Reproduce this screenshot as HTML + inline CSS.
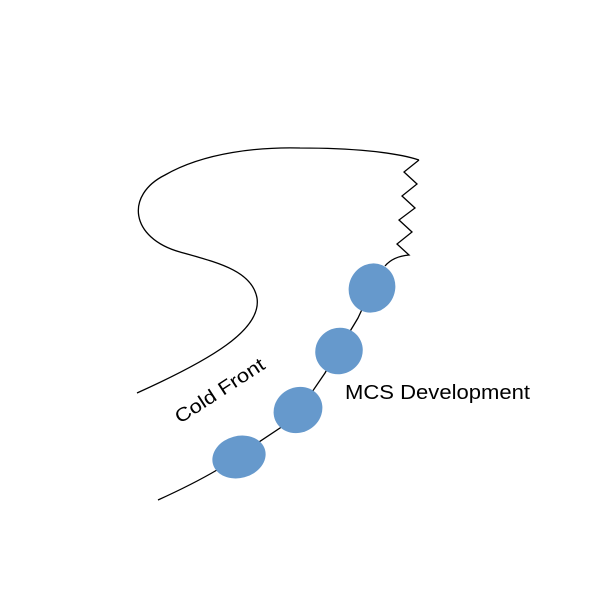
<!DOCTYPE html>
<html><head><style>body{margin:0;background:#fff}</style></head><body>
<svg width="600" height="600" viewBox="0 0 600 600" xmlns="http://www.w3.org/2000/svg">
<g fill="none" stroke="#000" stroke-width="1.3">
<path d="M137,393 C210,360 262,330 257,298 C252,270 215,262 180,252 C130,238 125,195 165,175 C205,152 260,147 300,148 C350,148 395,152 419,160"/>
<path d="M419,160 L404,172 L417,184 L402,196 L415,208 L399,220 L412,232 L397,244 L409,255 C398,256 390,260 385,266"/>
<path d="M158,500 C180,490 200,480 217,470 L283,426 C295,415 300,405 310,395 L325,373 C335,355 345,340 358,318 L372,288"/>
</g>
<g fill="#6699cc">
<ellipse cx="372" cy="288" rx="23" ry="25" transform="rotate(25 372 288)"/>
<ellipse cx="339" cy="351" rx="24" ry="23" transform="rotate(-30 339 351)"/>
<ellipse cx="298" cy="410" rx="25" ry="22.5" transform="rotate(-30 298 410)"/>
<ellipse cx="239" cy="457" rx="27" ry="21" transform="rotate(-15 239 457)"/>
</g>
<text x="345" y="399" font-family="Liberation Sans, sans-serif" font-size="20" textLength="185" lengthAdjust="spacingAndGlyphs" fill="#000">MCS Development</text>
<text x="0" y="0" font-family="Liberation Sans, sans-serif" font-size="19" textLength="103" lengthAdjust="spacingAndGlyphs" fill="#000" transform="translate(180,424) rotate(-33)">Cold Front</text>
</svg>
</body></html>
